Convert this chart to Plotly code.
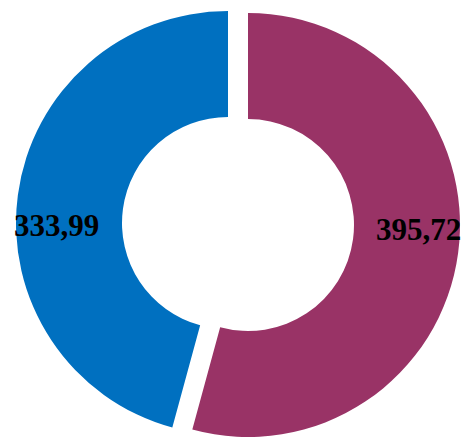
import plotly.graph_objects as go

# Data
categories = ["Serie A", "Serie B"]
values = [395.72, 333.99]
colors = ["#993366", "#0070C0"]

W, H = 464, 437

def fmt(v):
    return f"{v:.2f}".replace(".", ",")

labels_txt = [fmt(v) for v in values]

fig = go.Figure()

# Purple slice (exploded), drawn as its own trace so it can be offset
fig.add_trace(go.Pie(
    labels=categories, values=values, sort=False, direction="clockwise", rotation=0,
    hole=0.5,
    marker=dict(colors=[colors[0], "rgba(0,0,0,0)"], line=dict(width=0)),
    textinfo="none", hoverinfo="skip",
    domain=dict(x=[36 / W, 460 / W], y=[0, 1 - 13 / H]),
))
# Blue slice
fig.add_trace(go.Pie(
    labels=categories, values=values, sort=False, direction="clockwise", rotation=0,
    hole=0.5,
    marker=dict(colors=["rgba(0,0,0,0)", colors[1]], line=dict(width=0)),
    textinfo="none", hoverinfo="skip",
    domain=dict(x=[16 / W, 440 / W], y=[1 - 435 / H, 1 - 11 / H]),
))

label_pos = [(418 / W, 1 - 229 / H), (56 / W, 1 - 225 / H)]
for txt, (x, y) in zip(labels_txt, label_pos):
    fig.add_annotation(
        x=x, y=y, xref="paper", yref="paper", text=f"<b>{txt}</b>",
        showarrow=False, xanchor="center", yanchor="middle",
        font=dict(family="Liberation Serif", size=31, color="black"),
    )

fig.update_layout(
    width=W, height=H, margin=dict(l=0, r=0, t=0, b=0),
    showlegend=False, paper_bgcolor="white", plot_bgcolor="white",
)

fig.write_html(
    "out.html",
    config={"displayModeBar": False},
    post_script="document.body.style.margin='0';document.body.style.overflow='hidden';",
)
